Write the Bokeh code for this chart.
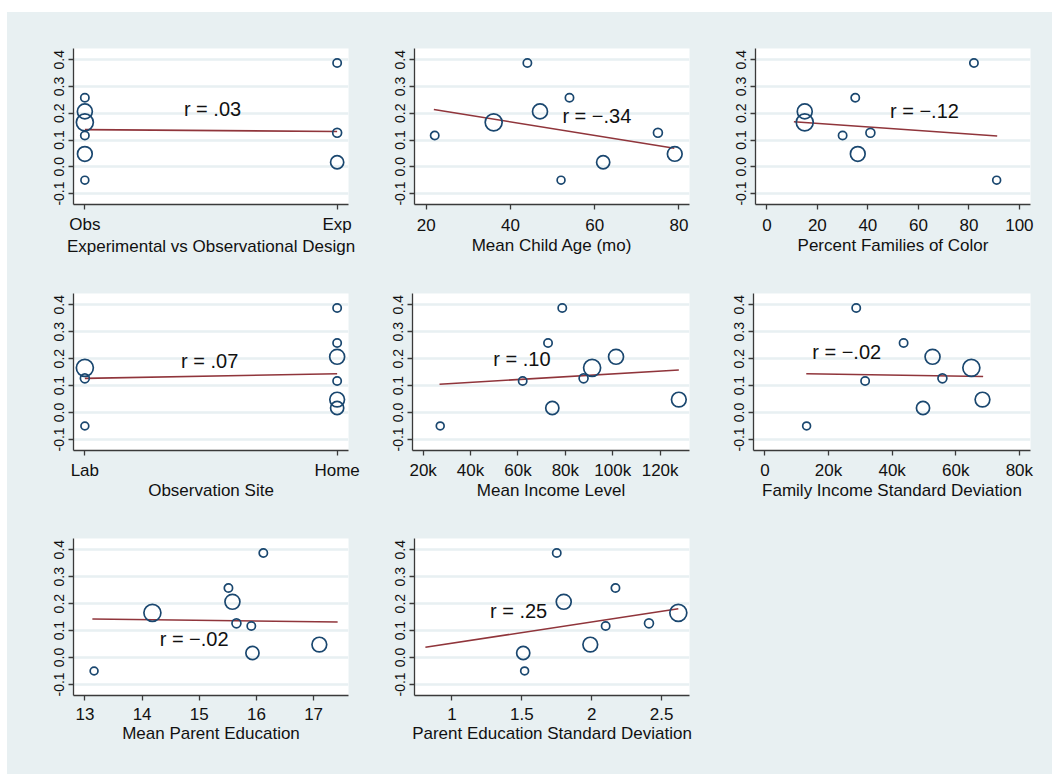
import math
from bokeh.plotting import figure
from bokeh.layouts import column, row, Spacer
from bokeh.models import Range1d, FixedTicker, PrintfTickFormatter
from bokeh.core.properties import value
from bokeh.embed import file_html
from bokeh.resources import INLINE

# ---------------- data (one entry per study) ----------------
effect_size = [0.388, 0.258, 0.207, 0.166, 0.127, 0.117, 0.048, 0.017, -0.05]
study_weight = [0.95, 0.95, 3.1, 4.0, 1.1, 0.95, 3.0, 2.4, 0.85]
design = ["Exp", "Obs", "Obs", "Obs", "Exp", "Obs", "Obs", "Exp", "Obs"]
child_age = [44, 54, 47, 36, 75, 22, 79, 62, 52]
pct_color = [82, 35, 15, 15, 41, 30, 36, float("nan"), 91]
site = ["Home", "Home", "Home", "Lab", "Lab", "Home", "Home", "Home", "Lab"]
mean_income = [78700, 72700, 101400, 91300, 87700, 62000, 127900, 74500, 27200]
income_sd = [28700, 43600, 52700, 64900, 55800, 31500, 68400, 49700, 13100]
parent_ed = [16.12, 15.51, 15.58, 14.18, 15.65, 15.91, 17.10, 15.93, 13.16]
parent_ed_sd = [1.75, 2.17, 1.80, 2.62, 2.41, 2.10, 1.99, 1.51, 1.52]

design_codes = {"Obs": 0, "Exp": 1}
site_codes = {"Lab": 0, "Home": 1}

# fitted lines (end points)
fit_design_x, fit_design_y = [0, 1], [0.139, 0.132]
fit_age_x, fit_age_y = [21.8, 78.9], [0.214, 0.069]
fit_color_x, fit_color_y = [10.7, 91.2], [0.168, 0.115]
fit_site_x, fit_site_y = [0, 1], [0.127, 0.144]
fit_income_x, fit_income_y = [26900, 127900], [0.105, 0.158]
fit_incsd_x, fit_incsd_y = [13000, 68600], [0.144, 0.134]
fit_ed_x, fit_ed_y = [13.13, 17.42], [0.143, 0.132]
fit_edsd_x, fit_edsd_y = [0.81, 2.62], [0.038, 0.181]

r_labels = ["r = .03", "r = \u2212.34", "r = \u2212.12", "r = .07",
            "r = .10", "r = \u2212.02", "r = \u2212.02", "r = .25"]

y_ticks = [-0.1, 0.0, 0.1, 0.2, 0.3, 0.4]

# ---------------- style ----------------
BG = "#e8f0f2"
NAVY = "#1a476f"
MAROON = "#90353b"
AXIS = "#3a3a3a"
FONT = "Liberation Sans"


def make_panel(xs, ys, fx, fy, x_range, x_ticks, x_labels, title, r_text, r_pos,
               width, height, bl, br, bt, bb, lab_off, title_off):
    p = figure(width=width, height=height, output_backend="svg", toolbar_location=None,
               x_range=Range1d(*x_range), y_range=Range1d(-0.141, 0.442),
               min_border_left=bl, min_border_right=br, min_border_top=bt, min_border_bottom=bb,
               styles={"background-color": BG})
    p.border_fill_color = BG
    p.background_fill_color = "white"
    p.outline_line_color = None
    p.xgrid.grid_line_color = None
    p.ygrid.grid_line_color = BG
    p.ygrid.grid_line_width = 2.5

    p.xaxis.ticker = FixedTicker(ticks=x_ticks)
    p.xaxis.major_label_overrides = {t: l for t, l in zip(x_ticks, x_labels)}
    p.yaxis.ticker = FixedTicker(ticks=y_ticks)
    p.yaxis.formatter = PrintfTickFormatter(format="%.1f")
    p.yaxis.major_label_orientation = "vertical"

    for ax in (p.xaxis[0], p.yaxis[0]):
        ax.axis_line_color = AXIS
        ax.axis_line_width = 1.3
        ax.major_tick_line_color = AXIS
        ax.major_tick_line_width = 1.3
        ax.major_tick_in = 0
        ax.major_tick_out = 5
        ax.minor_tick_line_color = None
        ax.major_label_text_font = FONT
        ax.major_label_text_color = "#111111"
    p.xaxis.major_label_text_font_size = "17px"
    p.xaxis.major_label_standoff = lab_off
    p.yaxis.major_label_text_font_size = "14px"
    p.yaxis.major_label_standoff = 4
    p.xaxis.axis_label = title
    p.xaxis.axis_label_text_font = FONT
    p.xaxis.axis_label_text_font_size = "17px"
    p.xaxis.axis_label_text_font_style = "normal"
    p.xaxis.axis_label_text_color = "#111111"
    p.xaxis.axis_label_standoff = title_off

    p.line(fx, fy, line_color=MAROON, line_width=1.6)

    px, py, ps = [], [], []
    for x, y, w in zip(xs, ys, study_weight):
        if x is None or (isinstance(x, float) and math.isnan(x)):
            continue
        px.append(x)
        py.append(y)
        ps.append(8.5 * math.sqrt(w))
    p.scatter(px, py, size=ps, marker="circle", fill_color=None,
              line_color=NAVY, line_width=1.7)

    p.text(x=[r_pos[0]], y=[r_pos[1]], text=[r_text], text_align="center",
           text_baseline="middle", text_font=value(FONT), text_font_size="20px",
           text_color="#111111")
    return p


def k_ticks(ts):
    return [f"{t // 1000}k" if t else "0" for t in ts]


# column widths and row heights
W0, W1, W2 = 355, 330, 360
H0, H1, H2 = 246, 248, 268

p1 = make_panel([design_codes[d] for d in design], effect_size, fit_design_x, fit_design_y,
                (-0.045, 1.045), [0, 1], ["Obs", "Exp"],
                "Experimental vs Observational Design", r_labels[0], (0.506, 0.217),
                W0, H0, 66, 14, 36, 54, 5, 0)
p2 = make_panel(child_age, effect_size, fit_age_x, fit_age_y,
                (17.2, 82.5), [20, 40, 60, 80], ["20", "40", "60", "80"],
                "Mean Child Age (mo)", r_labels[1], (60.5, 0.19),
                W1, H0, 52, 3, 36, 54, 9, 2)
p3 = make_panel(pct_color, effect_size, fit_color_x, fit_color_y,
                (-4.5, 104.4), [0, 20, 40, 60, 80, 100], ["0", "20", "40", "60", "80", "100"],
                "Percent Families of Color", r_labels[2], (62.4, 0.209),
                W2, H0, 63, 22, 36, 54, 9, 2)

p4 = make_panel([site_codes[s] for s in site], effect_size, fit_site_x, fit_site_y,
                (-0.045, 1.045), [0, 1], ["Lab", "Home"],
                "Observation Site", r_labels[3], (0.495, 0.193),
                W0, H1, 66, 14, 35, 56, 5, -2)
inc_ticks = [20000, 40000, 60000, 80000, 100000, 120000]
p5 = make_panel(mean_income, effect_size, fit_income_x, fit_income_y,
                (15500, 132400), inc_ticks, k_ticks(inc_ticks),
                "Mean Income Level", r_labels[4], (61700, 0.199),
                W1, H1, 50, 3, 35, 56, 5, -2)
sd_ticks = [0, 20000, 40000, 60000, 80000]
p6 = make_panel(income_sd, effect_size, fit_incsd_x, fit_incsd_y,
                (-3600, 83500), sd_ticks, k_ticks(sd_ticks),
                "Family Income Standard Deviation", r_labels[5], (25700, 0.223),
                W2, H1, 61, 22, 35, 56, 5, -2)

p7 = make_panel(parent_ed, effect_size, fit_ed_x, fit_ed_y,
                (12.80, 17.61), [13, 14, 15, 16, 17], ["13", "14", "15", "16", "17"],
                "Mean Parent Education", r_labels[6], (14.91, 0.069),
                W0, H2, 66, 14, 32, 79, 7, 1)
p8 = make_panel(parent_ed_sd, effect_size, fit_edsd_x, fit_edsd_y,
                (0.732, 2.70), [1, 1.5, 2, 2.5], ["1", "1.5", "2", "2.5"],
                "Parent Education Standard Deviation", r_labels[7], (1.477, 0.174),
                W1, H2, 52, 3, 32, 79, 7, 1)

p9 = figure(width=W2, height=H2, output_backend="svg", toolbar_location=None,
            min_border=0, styles={"background-color": BG})
p9.border_fill_color = BG
p9.background_fill_color = BG
p9.outline_line_color = None
p9.axis.visible = False
p9.grid.visible = False

grid = column(
    row(p1, p2, p3, styles={"background-color": BG}),
    row(p4, p5, p6, styles={"background-color": BG}),
    row(p7, p8, p9, styles={"background-color": BG}),
    styles={"background-color": BG},
)

layout = column(
    Spacer(width=W0 + W1 + W2 + 7, height=12),
    row(Spacer(width=7, height=H0 + H1 + H2), grid),
)

open("out.html", "w").write(file_html(layout, INLINE))
